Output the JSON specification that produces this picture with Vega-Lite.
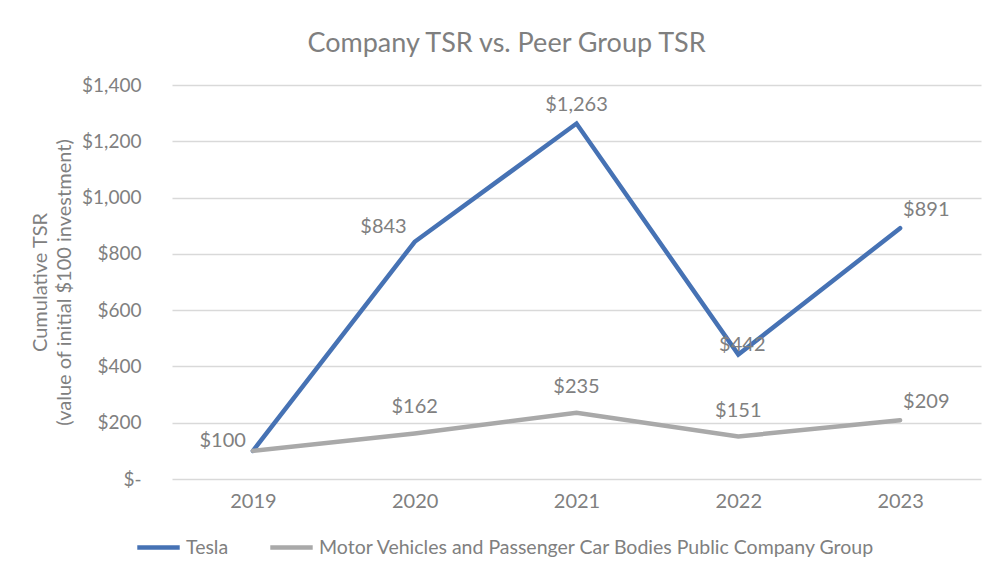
{
  "$schema": "https://vega.github.io/schema/vega-lite/v6.json",
  "width": 809,
  "height": 394,
  "autosize": {"type": "none"},
  "padding": {"left": 172, "top": 85, "right": 16, "bottom": 96},
  "background": "white",
  "config": {
    "font": "Lato",
    "view": {"stroke": null},
    "text": {"font": "Lato", "fontSize": 20, "fill": "#808080"}
  },
  "title": {
    "text": "Company TSR vs. Peer Group TSR",
    "fontSize": 27,
    "fontWeight": "normal",
    "color": "#7f7f7f",
    "font": "Lato",
    "anchor": "middle",
    "dx": -70,
    "offset": 18
  },
  "data": {
    "values": [
      {"year": "2019", "series": "Tesla", "value": 100},
      {"year": "2020", "series": "Tesla", "value": 843},
      {"year": "2021", "series": "Tesla", "value": 1263},
      {"year": "2022", "series": "Tesla", "value": 442},
      {"year": "2023", "series": "Tesla", "value": 891},
      {"year": "2019", "series": "Motor Vehicles and Passenger Car Bodies Public Company Group", "value": 100},
      {"year": "2020", "series": "Motor Vehicles and Passenger Car Bodies Public Company Group", "value": 162},
      {"year": "2021", "series": "Motor Vehicles and Passenger Car Bodies Public Company Group", "value": 235},
      {"year": "2022", "series": "Motor Vehicles and Passenger Car Bodies Public Company Group", "value": 151},
      {"year": "2023", "series": "Motor Vehicles and Passenger Car Bodies Public Company Group", "value": 209}
    ]
  },
  "encoding": {
    "x": {
      "field": "year",
      "type": "ordinal",
      "scale": {"type": "point", "padding": 0.5},
      "axis": {
        "title": null,
        "labelAngle": 0,
        "domain": false,
        "ticks": false,
        "labelFontSize": 20,
        "labelColor": "#808080",
        "labelFont": "Lato",
        "labelPadding": 12
      }
    },
    "y": {
      "field": "value",
      "type": "quantitative",
      "scale": {"domain": [0, 1400]},
      "axis": {
        "values": [0, 200, 400, 600, 800, 1000, 1200, 1400],
        "labelExpr": "datum.value == 0 ? '$-' : format(datum.value, '$,.0f')",
        "title": ["Cumulative TSR", "(value of initial $100 investment)"],
        "titleFontSize": 20,
        "titleFontWeight": "normal",
        "titleColor": "#808080",
        "titleFont": "Lato",
        "titlePadding": 7,
        "titleLineHeight": 24,
        "domain": false,
        "ticks": false,
        "grid": true,
        "gridColor": "#d9d9d9",
        "gridWidth": 1.5,
        "labelFontSize": 19,
        "labelColor": "#808080",
        "labelFont": "Lato",
        "labelPadding": 31
      }
    }
  },
  "layer": [
    {
      "mark": {"type": "line", "strokeWidth": 4.5, "strokeCap": "round", "strokeJoin": "miter"},
      "encoding": {
        "color": {
          "field": "series",
          "type": "nominal",
          "scale": {
            "domain": ["Tesla", "Motor Vehicles and Passenger Car Bodies Public Company Group"],
            "range": ["#4672b4", "#a9a9a9"]
          },
          "legend": {
            "title": null,
            "orient": "none",
            "direction": "horizontal",
            "legendX": -37,
            "legendY": 439,
            "symbolType": "stroke",
            "symbolSize": 1800,
            "symbolStrokeWidth": 4.5,
            "labelFontSize": 19.5,
            "labelColor": "#808080",
            "labelFont": "Lato",
            "labelLimit": 800,
            "labelOffset": 4,
            "columnPadding": 32
          }
        }
      }
    },
    {
      "transform": [{"filter": "datum.series != 'Tesla' && (datum.year == '2020' || datum.year == '2021' || datum.year == '2022')"}],
      "mark": {"type": "text", "align": "center", "baseline": "middle", "dy": -26},
      "encoding": {"text": {"field": "value", "type": "quantitative", "format": "$,.0f"}}
    },
    {
      "transform": [{"filter": "datum.series == 'Tesla' && datum.year == '2021'"}],
      "mark": {"type": "text", "align": "center", "baseline": "middle", "dy": -19},
      "encoding": {"text": {"field": "value", "type": "quantitative", "format": "$,.0f"}}
    },
    {
      "transform": [{"filter": "datum.series == 'Tesla' && datum.year == '2022'"}],
      "mark": {"type": "text", "align": "center", "baseline": "middle", "dx": 4, "dy": -10},
      "encoding": {"text": {"field": "value", "type": "quantitative", "format": "$,.0f"}}
    },
    {
      "transform": [{"filter": "datum.year == '2023'"}],
      "mark": {"type": "text", "align": "left", "baseline": "middle", "dx": 3, "dy": -18},
      "encoding": {"text": {"field": "value", "type": "quantitative", "format": "$,.0f"}}
    },
    {
      "transform": [{"filter": "datum.series == 'Tesla' && datum.year == '2020'"}],
      "mark": {"type": "text", "align": "right", "baseline": "middle", "dx": -8, "dy": -15},
      "encoding": {"text": {"field": "value", "type": "quantitative", "format": "$,.0f"}}
    },
    {
      "transform": [{"filter": "datum.series != 'Tesla' && datum.year == '2019'"}],
      "mark": {"type": "text", "align": "right", "baseline": "middle", "dx": -7, "dy": -10},
      "encoding": {"text": {"field": "value", "type": "quantitative", "format": "$,.0f"}}
    }
  ]
}
